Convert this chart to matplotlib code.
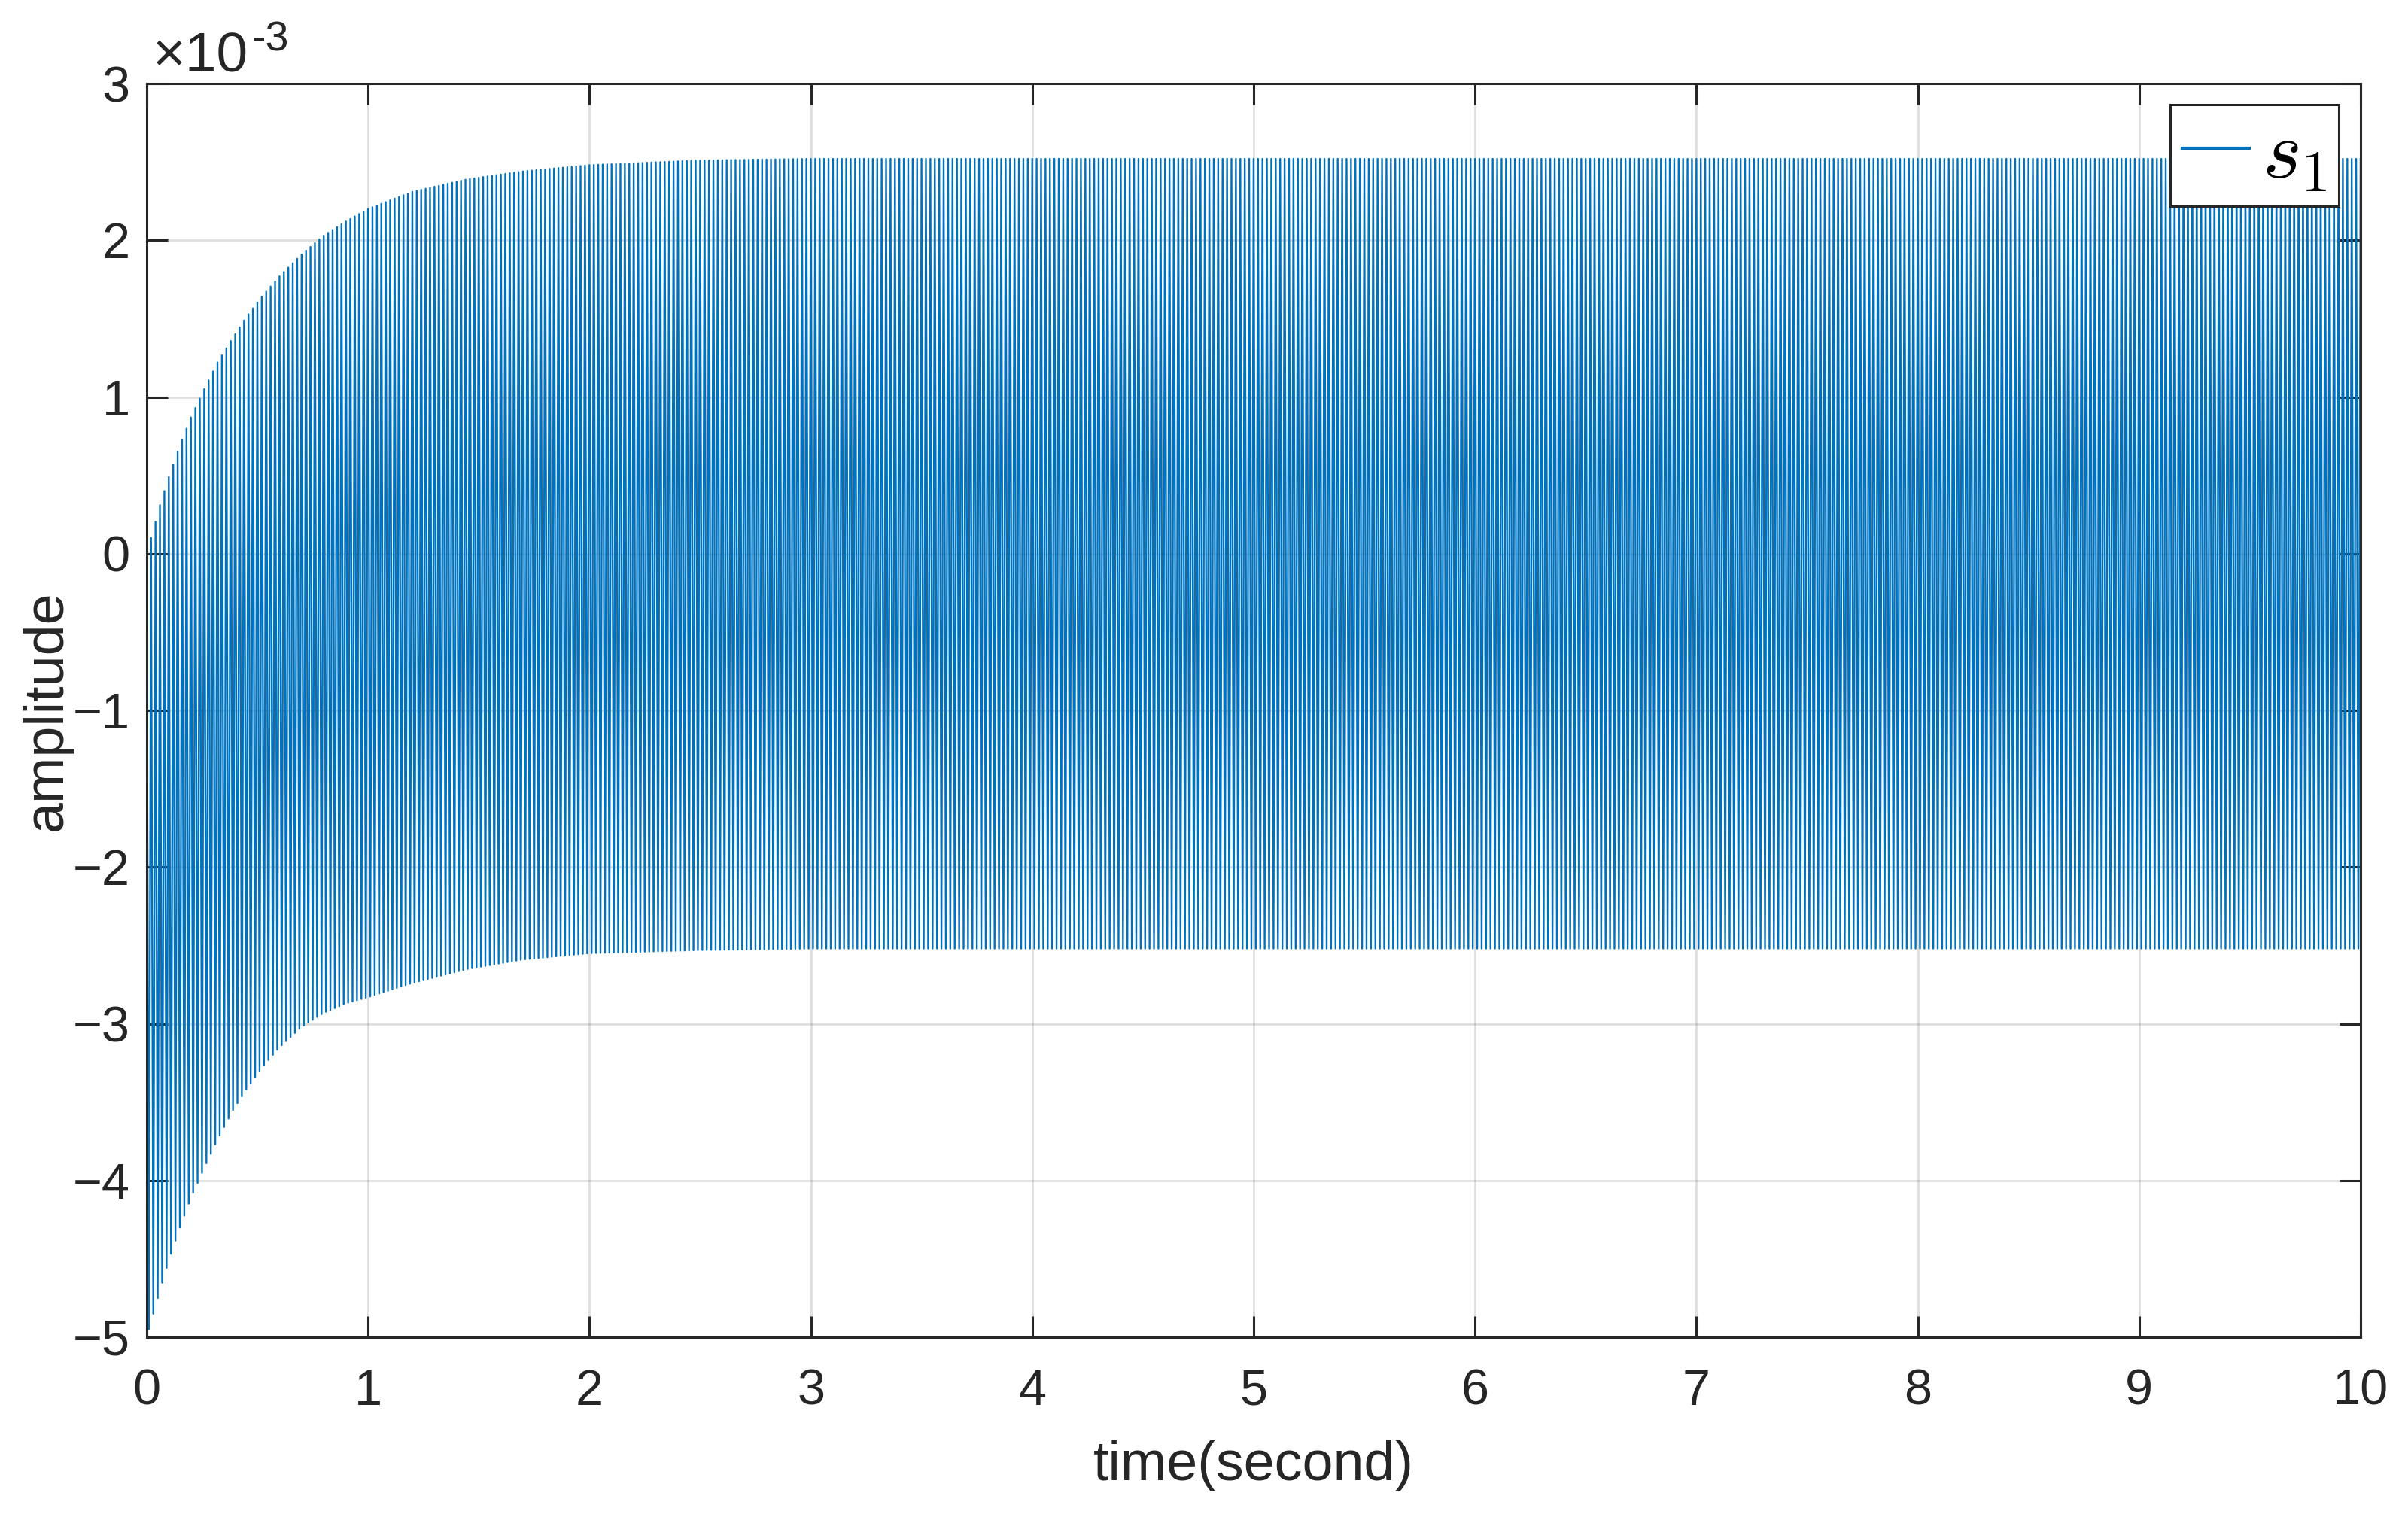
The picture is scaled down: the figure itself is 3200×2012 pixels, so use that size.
"""Dense oscillation s1 with decaying offset (MATLAB-style figure)."""
import matplotlib
matplotlib.use("Agg")
import matplotlib.pyplot as plt
from matplotlib.font_manager import FontProperties
from matplotlib.ticker import FuncFormatter
import numpy as np

plt.rcParams["font.family"] = ["Liberation Sans", "DejaVu Sans"]

# ── data (amplitude in units of 1e-3) ──
env_t = [0, 0.03, 0.06, 0.1, 0.15, 0.2, 0.26, 0.32, 0.39, 0.45, 0.52, 0.6,
         0.7, 0.8, 0.9, 1.0, 1.2, 1.45, 1.7, 2.0, 2.5, 3.0, 4.0, 10.0]
env_upper = [0.0, 0.15, 0.31, 0.49, 0.69, 0.87, 1.05, 1.22, 1.38, 1.51, 1.64, 1.77,
             1.91, 2.03, 2.12, 2.20, 2.31, 2.39, 2.44, 2.48, 2.51, 2.52, 2.52, 2.52]
env_lower = [-5.0, -4.85, -4.70, -4.51, -4.30, -4.11, -3.92, -3.74, -3.55, -3.42, -3.28, -3.15,
             -3.02, -2.93, -2.87, -2.83, -2.74, -2.65, -2.59, -2.55, -2.53, -2.52, -2.52, -2.52]
carrier_hz = 50.0          # about 5.9 px per cycle in the reference
sample_dt = 0.005          # coarse solver step: 4 samples per cycle
y_scale = 1e-3

x_ticks = list(range(0, 11))
y_ticks = [-5, -4, -3, -2, -1, 0, 1, 2, 3]

BLUE = "#0072BD"
DARK = "#262626"

# ── trace between the envelopes ──
t = np.arange(0, 10 + sample_dt / 2, sample_dt)
up = np.interp(t, env_t, env_upper)
lo = np.interp(t, env_t, env_lower)
mid = (up + lo) / 2
half = (up - lo) / 2
s1 = (mid + half * np.cos(2 * np.pi * carrier_hz * t)) * y_scale

fig = plt.figure(figsize=(16, 10.06), dpi=200)
ax = fig.add_axes([0.0609, 0.1168, 0.9194, 0.828])

ax.plot(t, s1, color=BLUE, linewidth=0.85, label=r"$s_1$")

ax.set_xlim(0, 10)
ax.set_ylim(-5 * y_scale, 3 * y_scale)
ax.set_xticks(x_ticks)
ax.set_yticks([v * y_scale for v in y_ticks])
ax.yaxis.set_major_formatter(FuncFormatter(lambda v, p: f"{v / y_scale:.0f}".replace("-", "\u2212")))
ax.xaxis.set_major_formatter(FuncFormatter(lambda v, p: f"{v:.0f}"))

ax.grid(True, color=DARK, alpha=0.15, linewidth=1.0)
for sp in ax.spines.values():
    sp.set_color(DARK)
    sp.set_linewidth(1.1)
ax.tick_params(direction="in", length=10, width=1.1, color=DARK,
               top=True, right=True, labelsize=24, labelcolor=DARK)
ax.tick_params(axis="x", pad=15)
ax.tick_params(axis="y", pad=8)

ax.set_xlabel("time(second)", fontsize=26.5, color=DARK, va="top")
ax.set_ylabel("amplitude", fontsize=26.5, color=DARK, va="center")
ax.xaxis.set_label_coords(0.5, -0.0816)
ax.yaxis.set_label_coords(-0.0452, 0.5)

# exponent label above the axes
base = ax.text(0.0027, 1.0096, "\u00d710", transform=ax.transAxes,
               fontsize=27, color=DARK, ha="left", va="baseline")
ax.annotate("-3", xy=(1.0, 1.0), xycoords=base, xytext=(1.5, 5), textcoords="offset points",
            fontsize=20, color=DARK, ha="left", va="top")

leg = ax.legend(loc="upper right", bbox_to_anchor=(0.9901, 0.9832),
                prop=FontProperties(size=40, math_fontfamily="cm"),
                frameon=True, fancybox=False, framealpha=1.0, borderaxespad=0.0,
                handlelength=0.8, handletextpad=0.15, borderpad=0.14)
leg.get_frame().set_edgecolor(DARK)
leg.get_frame().set_linewidth(1.1)
for h in leg.get_lines():
    h.set_linewidth(1.5)

fig.savefig("out.png", dpi=200)
